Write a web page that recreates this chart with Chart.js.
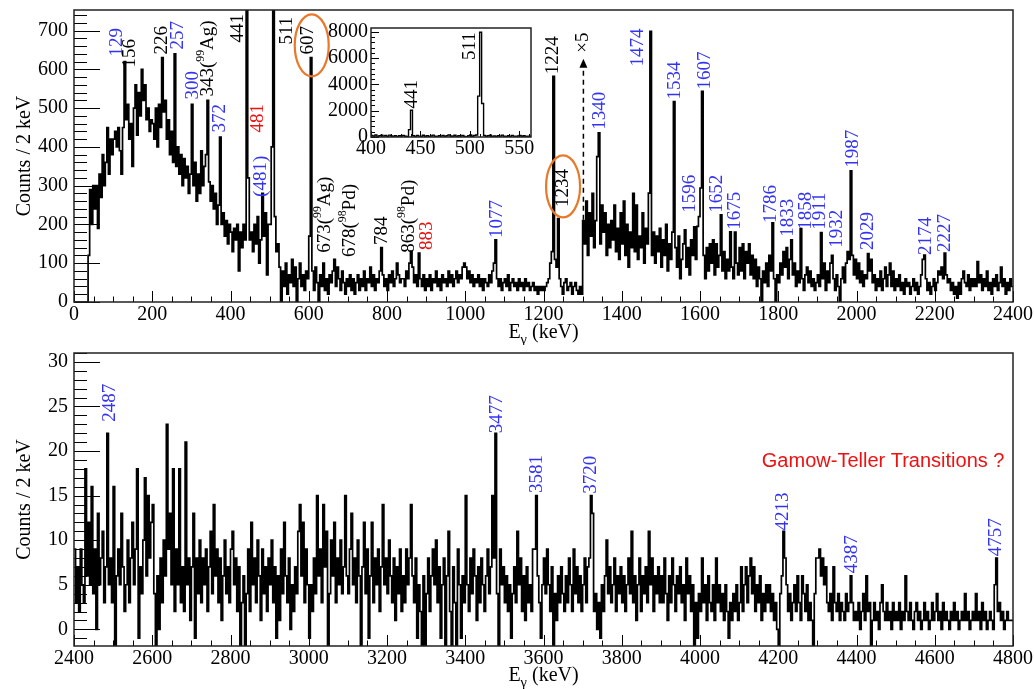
<!DOCTYPE html>
<html>
<head>
<meta charset="utf-8">
<script src="https://cdn.jsdelivr.net/npm/chart.js@4.4.1/dist/chart.umd.min.js"></script>
<style>
body { margin: 0; background: #fff; }
#wrap { position: relative; width: 1034px; height: 689px; overflow: hidden; }
canvas { position: absolute; }
</style>
</head>
<body>
<div id="wrap">
<canvas id="top" width="1034" height="345" style="left:0;top:0"></canvas>
<canvas id="bottom" width="1034" height="344" style="left:0;top:345px"></canvas>
<canvas id="inset" width="215" height="140" style="left:320px;top:20px"></canvas>
</div>
<script>
// spectrum, 4 keV bins, lower edges from topStart / bottomStart
const binWidth = 4;
const topStart = 0;
const topCounts = [
    0,0,0,0,0,0,0,0,0,120,290,200,300,240,300,190,330,270,380,300,360,450,330,420,380,
    420,440,400,450,390,330,450,620,470,510,420,460,350,500,560,430,540,480,600,520,560,470,500,440,470,
    460,420,500,400,510,450,630,490,520,420,470,380,440,360,640,350,400,330,380,300,370,320,350,280,330,
    510,300,360,260,330,280,390,300,350,380,520,310,260,300,240,280,200,250,425,200,230,170,210,150,200,
    180,130,190,160,200,80,180,140,200,160,2040,320,160,180,130,200,150,220,100,160,280,170,230,70,200,
    200,400,7977,220,130,150,90,0,80,40,100,20,70,50,110,40,90,0,60,100,40,70,30,80,60,
    170,630,80,30,90,50,0,70,40,100,30,60,20,70,50,80,110,40,90,60,30,80,50,20,60,
    40,70,30,60,20,50,70,30,60,40,80,30,60,50,90,40,70,30,60,50,80,140,70,40,60,
    30,70,50,80,40,60,100,70,50,60,60,40,80,60,100,130,90,50,70,40,126,60,40,70,30,
    60,40,70,30,60,50,80,40,60,30,70,50,60,40,80,50,70,40,60,80,50,70,60,90,100,
    90,60,80,50,70,40,60,50,70,40,60,30,60,50,40,70,50,80,100,160,60,40,60,30,50,
    60,40,70,30,50,60,40,50,30,60,40,50,30,60,40,50,30,40,50,30,40,20,40,30,40,
    30,40,50,60,100,130,582,110,90,215,60,40,20,50,60,30,40,50,20,40,50,30,20,40,20,
    210,150,260,120,230,170,280,140,210,375,436,150,250,180,230,120,200,140,210,160,250,130,190,110,230,
    150,260,120,200,90,180,140,280,130,250,110,170,140,230,100,190,150,281,698,120,180,100,170,130,190,
    90,160,120,200,80,150,110,180,517,140,90,170,60,110,150,186,90,140,70,160,120,194,110,195,220,
    294,543,120,60,140,80,150,100,160,70,150,90,120,225,80,130,60,110,80,181,90,60,180,100,70,
    140,80,150,60,130,100,150,70,120,60,110,40,90,60,0,80,50,100,40,120,80,204,60,0,70,
    50,100,70,130,90,140,60,110,160,70,100,40,80,50,189,60,30,70,90,50,80,40,60,30,50,
    70,40,179,60,100,30,80,50,100,120,60,30,70,40,0,60,90,50,100,130,110,338,120,70,110,
    60,100,50,80,40,70,60,125,80,110,50,70,30,60,40,80,30,60,90,40,70,100,40,80,30,
    60,40,70,30,50,20,60,40,50,20,40,60,30,50,20,40,70,110,121,60,30,50,20,40,60,
    30,50,80,70,90,60,126,70,50,60,30,50,20,40,10,50,20,60,80,50,40,70,30,60,40,
    60,40,104,50,70,30,60,40,80,30,50,20,60,40,70,30,50,90,40,60,20,50,30,60,40
];
const bottomStart = 2400;
const bottomCounts = [
    9,3,7,2,9,5,3,18,6,12,5,16,4,9,0,13,5,8,11,3,7,22,5,8,3,
    16,-2,6,9,5,13,7,2,5,10,3,8,12,5,9,18,-1,7,4,10,17,6,15,8,12,
    14,4,-2,6,0,8,3,10,6,23,9,13,5,18,2,9,5,18,3,7,2,21,5,8,1,
    7,13,-1,8,4,10,3,8,5,9,2,7,11,4,14,6,9,3,8,1,6,10,4,7,3,
    9,11,5,8,2,7,-2,3,6,-2,4,9,2,12,5,8,3,10,6,1,9,4,7,2,8,
    5,10,3,7,-1,6,1,9,4,12,6,3,8,0,5,2,7,4,11,14,6,12,3,9,5,
    -1,5,2,8,4,15,6,9,3,14,7,11,-2,4,10,6,12,3,8,5,10,4,7,15,6,
    4,9,13,5,8,3,10,6,-2,7,12,4,9,-1,6,12,3,8,5,9,2,7,14,5,8,
    4,10,6,3,8,1,7,4,9,2,6,3,9,5,8,14,6,3,8,-1,5,2,-2,6,-2,
    4,8,2,6,9,5,10,3,7,-1,5,8,-2,6,11,2,-2,7,3,-2,9,5,-1,6,3,
    15,5,2,8,4,9,6,1,7,3,8,5,2,6,9,4,7,15,8,22,4,-2,9,5,7,
    3,6,2,5,-1,4,7,3,11,5,8,2,6,1,7,3,5,2,9,9,15,6,3,-1,5,
    8,4,9,5,2,7,-2,4,1,6,3,7,4,2,6,3,8,5,2,9,4,7,3,6,2,
    5,8,3,7,8,15,13,2,4,0,3,-1,5,2,6,10,4,7,3,5,8,2,6,4,7,
    3,6,2,5,8,4,11,3,6,1,5,8,2,6,4,7,3,11,5,8,2,6,4,7,3,
    6,3,8,4,1,6,3,8,5,2,6,4,7,3,5,1,8,4,6,2,5,-2,3,-1,4,
    2,8,3,5,1,6,3,2,5,1,8,3,5,2,4,1,5,2,-1,3,1,4,2,5,1,
    3,7,2,5,7,3,6,8,4,7,2,5,3,6,1,4,2,5,3,5,2,4,1,3,0,
    -2,4,6,11,8,5,2,4,1,3,5,2,6,3,1,6,4,2,5,1,3,1,-2,4,8,
    8,9,6,8,5,7,3,2,4,1,7,3,2,4,1,3,2,1,4,2,3,6,3,1,2,
    1,3,0,2,4,1,6,2,3,-2,1,3,1,2,0,3,5,2,1,3,1,2,0,3,1,
    2,1,3,0,2,1,6,2,1,3,1,0,2,3,1,2,0,1,3,1,2,0,1,3,1,
    2,4,1,2,0,3,1,2,1,0,2,1,3,1,2,0,1,2,1,4,1,2,0,1,2,
    1,4,1,2,0,3,1,2,0,1,2,1,0,5,8,2,3,1,2,0,1,2,1,1,1
];
// inset, 2 keV bins from 400 keV
const insetStart = 400;
const insetBin = 2;
const insetCounts = [
    120,60,150,40,90,130,70,110,50,140,80,60,100,30,90,70,120,60,40,565,2040,
    90,50,110,70,40,130,60,90,50,80,140,60,30,100,70,120,50,90,160,80,
    60,130,40,100,70,110,50,30,90,150,60,120,150,3110,7977,2552,
    110,60,90,130,50,80,40,100,70,140,60,30,90,50,110,70,40,80,120,60,90,50,70,60
];

const topXTicks = [0, 200, 400, 600, 800, 1000, 1200, 1400, 1600, 1800, 2000, 2200, 2400];
const topYTicks = [0, 100, 200, 300, 400, 500, 600, 700];
const bottomXTicks = [2400, 2600, 2800, 3000, 3200, 3400, 3600, 3800, 4000, 4200, 4400, 4600, 4800];
const bottomYTicks = [0, 5, 10, 15, 20, 25, 30];
const insetXTicks = [400, 450, 500, 550];
const insetYTicks = [0, 2000, 4000, 6000, 8000];

// peak labels: [energy where drawn, counts at text start, text, colour]
const topLabels = [
    [109, 633, '129', 'b'], [143, 605, '156', 'k'], [224, 638, '226', 'k'], [267, 651, '257', 'b'],
    [305, 522, '300', 'b'], [343, 530, '343(^{99}Ag)', 'k'], [373, 437, '372', 'b'], [419, 669, '441', 'k'],
    [471, 437, '481', 'r'], [477, 271, '(481)', 'b'], [544, 664, '511', 'k'], [599, 638, '607', 'k'],
    [642, 127, '673(^{99}Ag)', 'k'], [705, 116, '678(^{98}Pd)', 'k'], [786, 147, '784', 'k'],
    [855, 127, '863(^{98}Pd)', 'k'], [901, 134, '883', 'r'], [1080, 165, '1077', 'b'],
    [1225, 587, '1224', 'k'], [1249, 245, '1234', 'k'], [1345, 444, '1340', 'b'], [1441, 607, '1474', 'b'],
    [1536, 522, '1534', 'b'], [1575, 230, '1596', 'b'], [1613, 548, '1607', 'b'], [1643, 230, '1652', 'b'],
    [1690, 186, '1675', 'b'], [1781, 204, '1786', 'b'], [1826, 168, '1833', 'b'], [1871, 186, '1858', 'b'],
    [1907, 186, '1911', 'b'], [1950, 140, '1932', 'b'], [1992, 346, '1987', 'b'], [2030, 134, '2029', 'b'],
    [2178, 121, '2174', 'b'], [2227, 129, '2227', 'b']
];
const bottomLabels = [
    [2492, 23.3, '2487', 'b'], [3480, 22.0, '3477', 'b'], [3583, 15.3, '3581', 'b'], [3721, 15.2, '3720', 'b'],
    [4213, 11.1, '4213', 'b'], [4388, 6.3, '4387', 'b'], [4757, 8.2, '4757', 'b']
];
const insetLabels = [[441.7, 2170, '441', 'k'], [500.3, 5860, '511', 'k']];
// circled peaks [energy, counts] and the x5 marker
const circled = [[607.6, 662], [1250, 298]];
const scaleMarker = {e: 1302, from: 212, to: 627, text: '\u00d75', textAt: 643};
const gtNote = {e: 4158, y: 18.2, text: 'Gamow-Teller Transitions ?'};

const COLORS = {k: '#000', b: '#3333f5', r: '#ee1111'};
const SERIF = "'Liberation Serif', 'Times New Roman', serif";
const SANS = "'Liberation Sans', Arial, sans-serif";

function toSteps(start, width, counts) {
    const pts = counts.map((c, i) => ({x: start + i * width, y: c}));
    pts.push({x: start + counts.length * width, y: counts[counts.length - 1]});
    return pts;
}

function richParts(str) {
    const parts = [];
    const re = /\^\{([^}]*)\}|_\{([^}]*)\}|([^^_]+)/g;
    let m;
    while ((m = re.exec(str))) {
        if (m[1] !== undefined) parts.push({t: m[1], s: 0.62, dy: -0.36});
        else if (m[2] !== undefined) parts.push({t: m[2], s: 0.72, dy: 0.28});
        else parts.push({t: m[3], s: 1, dy: 0});
    }
    return parts;
}

function drawRich(ctx, str, x, y, size, family, align) {
    const parts = richParts(str);
    let w = 0;
    for (const p of parts) {
        ctx.font = (size * p.s) + 'px ' + family;
        p.w = ctx.measureText(p.t).width;
        w += p.w;
    }
    let cx = align === 'center' ? x - w / 2 : (align === 'right' ? x - w : x);
    ctx.textAlign = 'left';
    for (const p of parts) {
        ctx.font = (size * p.s) + 'px ' + family;
        ctx.fillText(p.t, cx, y + p.dy * size);
        cx += p.w;
    }
}

// ROOT-like frame with inward ticks, plus axis titles
function rootAxes(o) {
    return {
        id: 'rootAxes',
        beforeDatasetsDraw(chart) {
            if (!o.fillWhite) return;
            const a = chart.chartArea;
            chart.ctx.save();
            chart.ctx.fillStyle = '#fff';
            chart.ctx.fillRect(a.left, a.top, a.width, a.height);
            chart.ctx.restore();
        },
        afterDatasetsDraw(chart) {
            const {ctx, chartArea: a} = chart;
            const xs = chart.scales.x, ys = chart.scales.y;
            ctx.save();
            ctx.strokeStyle = '#000';
            ctx.lineWidth = 1;
            ctx.beginPath();
            for (let i = Math.ceil(xs.min / o.xMinor - 1e-6); i * o.xMinor <= xs.max + 1e-6; i++) {
                const v = i * o.xMinor;
                const p = Math.round(xs.getPixelForValue(v)) + 0.5;
                const major = Math.abs(v / o.xMajor - Math.round(v / o.xMajor)) < 1e-6;
                ctx.moveTo(p, a.bottom);
                ctx.lineTo(p, a.bottom - (major ? o.xLen : o.xLen / 2));
            }
            for (let i = Math.ceil(ys.min / o.yMinor - 1e-6); i * o.yMinor <= ys.max + 1e-6; i++) {
                const v = i * o.yMinor;
                const p = Math.round(ys.getPixelForValue(v)) + 0.5;
                const major = Math.abs(v / o.yMajor - Math.round(v / o.yMajor)) < 1e-6;
                ctx.moveTo(a.left, p);
                ctx.lineTo(a.left + (major ? o.yLen : o.yLen / 2), p);
            }
            ctx.stroke();
            ctx.lineWidth = 1.5;
            ctx.strokeStyle = '#222';
            ctx.strokeRect(a.left, a.top, a.width, a.height);
            ctx.fillStyle = '#000';
            if (o.xTitle) {
                ctx.textBaseline = 'alphabetic';
                drawRich(ctx, o.xTitle, (a.left + a.right) / 2, a.bottom + o.xTitleOff, 20, SERIF, 'center');
            }
            if (o.yTitle) {
                ctx.save();
                ctx.translate(25, (a.top + a.bottom) / 2);
                ctx.rotate(-Math.PI / 2);
                ctx.textBaseline = 'middle';
                drawRich(ctx, o.yTitle, 0, 0, 20, SERIF, 'center');
                ctx.restore();
            }
            ctx.restore();
        }
    };
}

// rotated peak labels and other notes, placed through the scales
function peakNotes(o) {
    return {
        id: 'peakNotes',
        afterDatasetsDraw(chart) {
            const ctx = chart.ctx;
            const xs = chart.scales.x, ys = chart.scales.y;
            ctx.save();
            ctx.textBaseline = 'middle';
            for (const [e, c, text, col] of o.labels) {
                ctx.save();
                ctx.translate(xs.getPixelForValue(e), ys.getPixelForValue(c));
                ctx.rotate(-Math.PI / 2);
                ctx.fillStyle = COLORS[col];
                drawRich(ctx, text, 0, 0, o.size, SERIF, 'left');
                ctx.restore();
            }
            if (o.circles) {
                ctx.strokeStyle = '#e8782a';
                ctx.lineWidth = 2.2;
                for (const [e, c] of o.circles) {
                    ctx.beginPath();
                    ctx.ellipse(xs.getPixelForValue(e), ys.getPixelForValue(c), 17, 31, 0, 0, Math.PI * 2);
                    ctx.stroke();
                }
            }
            if (o.marker) {
                const m = o.marker;
                const px = xs.getPixelForValue(m.e);
                const y0 = ys.getPixelForValue(m.from), y1 = ys.getPixelForValue(m.to);
                ctx.strokeStyle = '#000';
                ctx.lineWidth = 1.5;
                ctx.setLineDash([5, 4]);
                ctx.beginPath();
                ctx.moveTo(px, y0);
                ctx.lineTo(px, y1 + 8);
                ctx.stroke();
                ctx.setLineDash([]);
                ctx.fillStyle = '#000';
                ctx.beginPath();
                ctx.moveTo(px, y1);
                ctx.lineTo(px - 4, y1 + 9);
                ctx.lineTo(px + 4, y1 + 9);
                ctx.closePath();
                ctx.fill();
                ctx.save();
                ctx.translate(px, ys.getPixelForValue(m.textAt));
                ctx.rotate(-Math.PI / 2);
                drawRich(ctx, m.text, 0, 0, 19, SERIF, 'left');
                ctx.restore();
            }
            if (o.note) {
                ctx.fillStyle = '#ee1111';
                ctx.textBaseline = 'alphabetic';
                ctx.font = '20px ' + SANS;
                ctx.textAlign = 'left';
                ctx.fillText(o.note.text, xs.getPixelForValue(o.note.e), ys.getPixelForValue(o.note.y));
            }
            ctx.restore();
        }
    };
}

function zeroPad(s) {
    s.paddingLeft = s.paddingRight = s.paddingTop = s.paddingBottom = 0;
}

function makeChart(id, c) {
    const tickFont = {family: SERIF, size: 20, lineHeight: 1};
    return new Chart(document.getElementById(id), {
        type: 'line',
        data: {
            datasets: [{
                data: c.points,
                borderColor: '#000',
                borderWidth: c.lw,
                pointRadius: 0,
                stepped: true,
                fill: false,
                tension: 0
            }]
        },
        options: {
            responsive: false,
            animation: false,
            devicePixelRatio: 1,
            events: [],
            layout: {padding: c.pad},
            plugins: {legend: {display: false}, tooltip: {enabled: false}},
            scales: {
                x: {
                    type: 'linear',
                    min: c.xMin, max: c.xMax,
                    grid: {display: false, drawTicks: false},
                    border: {display: false},
                    afterBuildTicks: s => { s.ticks = c.xTicks.map(v => ({value: v})); },
                    afterFit: s => { s.height = c.xH; zeroPad(s); },
                    ticks: {font: tickFont, color: '#000', padding: c.xPad, maxRotation: 0, autoSkip: false, callback: v => String(v)}
                },
                y: {
                    type: 'linear',
                    min: c.yMin, max: c.yMax,
                    grid: {display: false, drawTicks: false},
                    border: {display: false},
                    afterBuildTicks: s => { s.ticks = c.yTicks.map(v => ({value: v})); },
                    afterFit: s => { s.width = c.yW; zeroPad(s); },
                    ticks: {font: tickFont, color: '#000', padding: c.yPad, autoSkip: false, callback: v => String(v)}
                }
            }
        },
        plugins: [rootAxes(c.axes), peakNotes(c.notes)]
    });
}

makeChart('top', {
    points: toSteps(topStart, binWidth, topCounts), lw: 1.7,
    xMin: 0, xMax: 2400, yMin: 0, yMax: 753,
    xTicks: topXTicks, yTicks: topYTicks,
    pad: {top: 10, right: 21, left: 0, bottom: 0}, xH: 43, yW: 74, xPad: 3, yPad: 6,
    axes: {xMinor: 50, xMajor: 200, yMinor: 20, yMajor: 100, xLen: 11, yLen: 26,
        xTitle: 'E_{\u03b3} (keV)', xTitleOff: 36, yTitle: 'Counts / 2 keV'},
    notes: {labels: topLabels, size: 19, circles: circled, marker: scaleMarker}
});

makeChart('bottom', {
    points: toSteps(bottomStart, binWidth, bottomCounts), lw: 1.7,
    xMin: 2400, xMax: 4800, yMin: -1.87, yMax: 31,
    xTicks: bottomXTicks, yTicks: bottomYTicks,
    pad: {top: 8, right: 21, left: 0, bottom: 0}, xH: 43, yW: 74, xPad: 3, yPad: 6,
    axes: {xMinor: 50, xMajor: 200, yMinor: 1, yMajor: 5, xLen: 11, yLen: 26,
        xTitle: 'E_{\u03b3} (keV)', xTitleOff: 35, yTitle: 'Counts / 2 keV'},
    notes: {labels: bottomLabels, size: 19, note: gtNote}
});

makeChart('inset', {
    points: toSteps(insetStart, insetBin, insetCounts), lw: 1.4,
    xMin: 400, xMax: 562, yMin: 0, yMax: 8300,
    xTicks: insetXTicks, yTicks: insetYTicks,
    pad: {top: 8, right: 4, left: 0, bottom: 0}, xH: 23, yW: 51, xPad: 2, yPad: 3,
    axes: {xMinor: 10, xMajor: 50, yMinor: 400, yMajor: 2000, xLen: 6, yLen: 8, fillWhite: true},
    notes: {labels: insetLabels, size: 19}
});
</script>
</body>
</html>
